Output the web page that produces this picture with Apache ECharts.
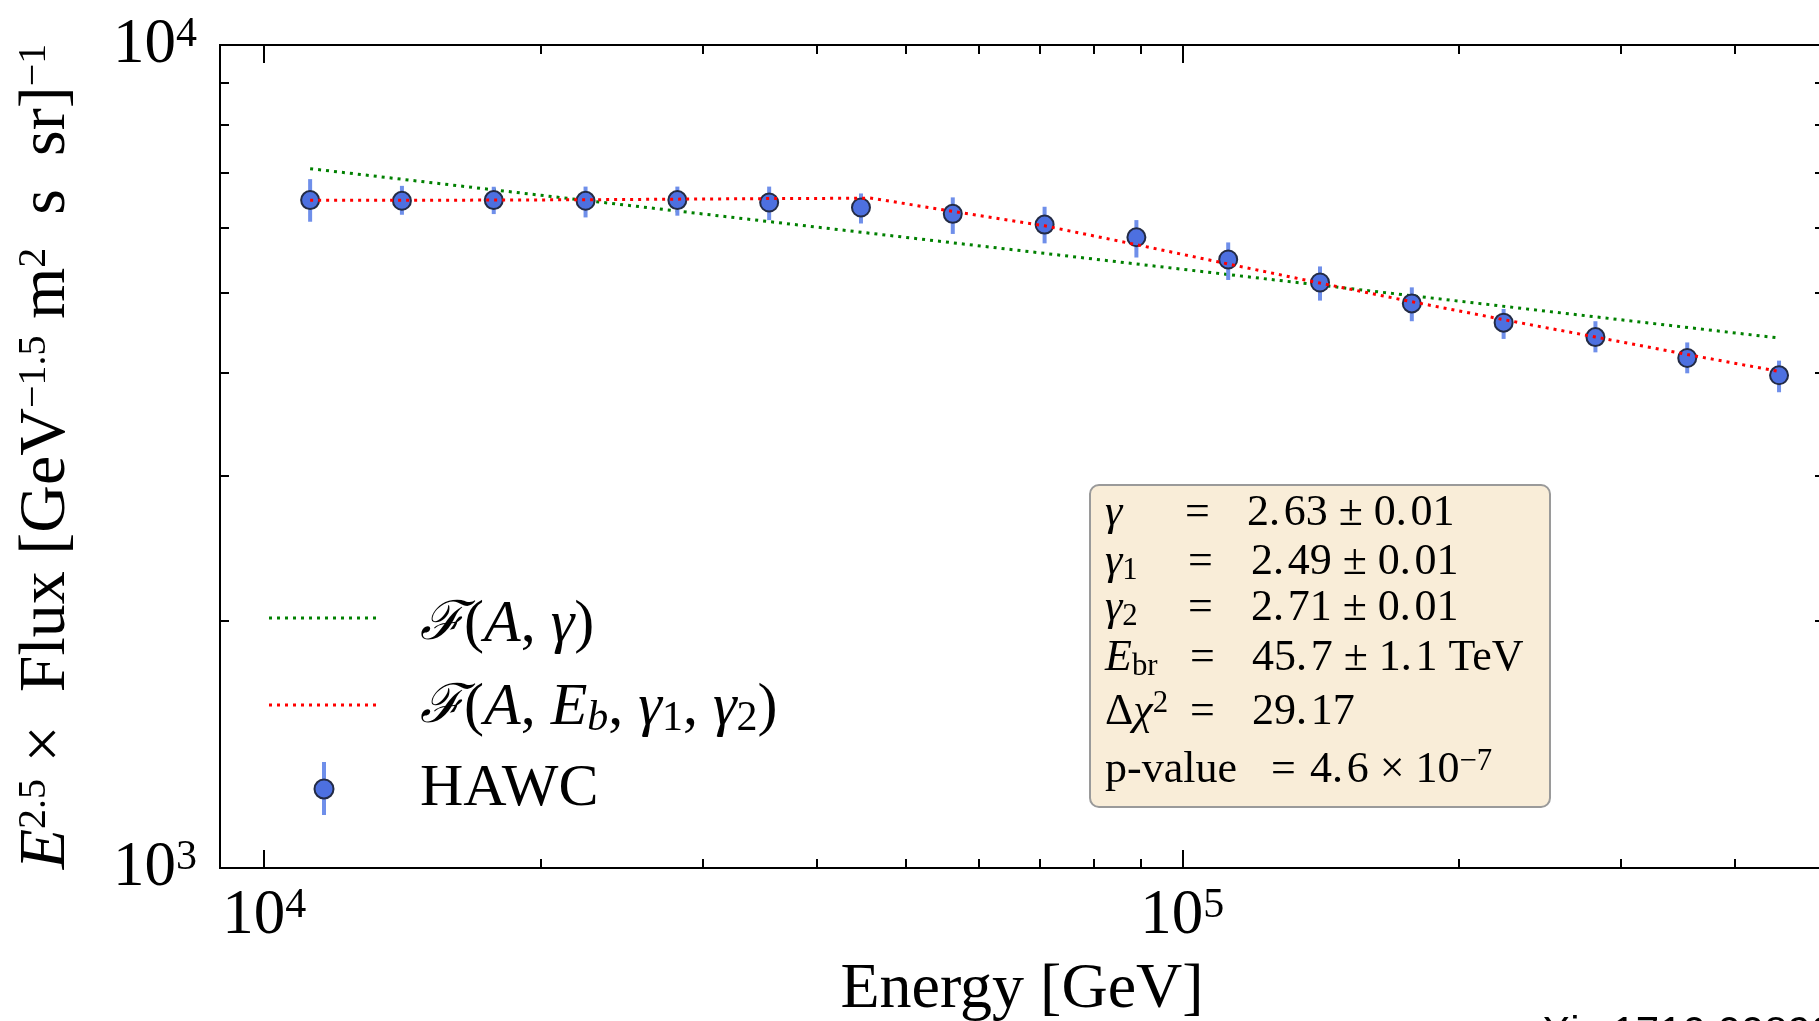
<!DOCTYPE html>
<html>
<head>
<meta charset="utf-8">
<title>HAWC spectrum</title>
<script src="https://cdn.jsdelivr.net/npm/echarts@6/dist/echarts.min.js"></script>
<style>
  html, body { margin: 0; padding: 0; background: #fff; }
  #chart { width: 1819px; height: 1021px; }
</style>
</head>
<body>
<div id="chart"></div>
<script>
// HAWC points, energy in GeV, y = E^2.5 x flux
const energy = [11220, 14125, 17783, 22387, 28184, 35481, 44668, 56234, 70795, 89125,
                112202, 141254, 177828, 223872, 281838, 354813, 446684];
const flux = [6480, 6467, 6480, 6467, 6480, 6436, 6347, 6235, 6050, 5839,
              5487, 5145, 4853, 4599, 4417, 4166, 3969];
const fluxLow = [6099, 6219, 6231, 6173, 6203, 6127, 6069, 5894, 5741, 5518,
                 5182, 4891, 4617, 4394, 4232, 3991, 3785];
const fluxHigh = [6871, 6743, 6726, 6729, 6729, 6729, 6601, 6529, 6360, 6127,
                  5756, 5382, 5076, 4778, 4617, 4351, 4135];

// single power law fit (straight on log-log)
const plE = [11220, 446684];
const plF = [7075, 4405];

// broken power law fit, read at the bin energies plus the break
const bplE = [11220, 14125, 17783, 22387, 28184, 35481, 44668, 45700, 56234, 70795,
              89125, 112202, 141254, 177828, 223872, 281838, 354813, 446684];
const bplF = [6476, 6476, 6480, 6486, 6497, 6507, 6513, 6518, 6278, 6030,
              5720, 5419, 5137, 4876, 4638, 4417, 4207, 4012];

const xMajor = [1e4, 1e5];
const xMinor = [2e4, 3e4, 4e4, 5e4, 6e4, 7e4, 8e4, 9e4, 2e5, 3e5, 4e5];
const yMajor = [1e3, 1e4];
const yMinor = [2e3, 3e3, 4e3, 5e3, 6e3, 7e3, 8e3, 9e3];

const serif = 'Liberation Serif';
const black = '#000';

const tickRich = {
    b: { fontFamily: serif, fontSize: 63, lineHeight: 63, color: black },
    s: { fontFamily: serif, fontSize: 42, lineHeight: 15, verticalAlign: 'top', color: black }
};
const powLabel = v => '{b|10}{s|' + Math.round(Math.log10(v)) + '}';

function makeAxis(position, ticks, len, range, more) {
    return Object.assign({
        type: 'log',
        position: position,
        min: range[0],
        max: range[1],
        axisLine: { show: true, onZero: false, lineStyle: { color: black, width: 2 } },
        axisTick: { show: true, inside: true, length: len, customValues: ticks,
                    lineStyle: { color: black, width: 2 } },
        axisLabel: { show: false },
        splitLine: { show: false },
        minorTick: { show: false },
        minorSplitLine: { show: false }
    }, more || {});
}

const xRange = [8950, 500000];
const yRange = [1000, 10000];

const xAxes = [
    makeAxis('bottom', xMajor, 18, xRange, {
        axisLabel: { show: true, customValues: xMajor, formatter: powLabel, rich: tickRich, margin: 17 },
        name: 'Energy [GeV]',
        nameLocation: 'middle',
        nameGap: 90,
        nameTextStyle: { fontFamily: serif, fontSize: 64, lineHeight: 64, color: black }
    }),
    makeAxis('bottom', xMinor, 9, xRange),
    makeAxis('top', xMajor, 18, xRange),
    makeAxis('top', xMinor, 9, xRange)
];

const yName = '{i|E}{s|2.5}{r| ×  Flux [GeV}{s|−1.5}{r| m}{s|2}{r|  s  sr]}{s|−1}';
const yAxes = [
    makeAxis('left', yMajor, 18, yRange, {
        axisLabel: { show: true, customValues: yMajor, formatter: powLabel, rich: tickRich, margin: 23 },
        name: yName,
        nameLocation: 'middle',
        nameRotate: 90,
        nameGap: 140,
        nameTextStyle: {
            color: black,
            rich: {
                r: { fontFamily: serif, fontSize: 66, lineHeight: 66, color: black },
                i: { fontFamily: serif, fontStyle: 'italic', fontSize: 66, lineHeight: 66, color: black },
                s: { fontFamily: serif, fontSize: 40, lineHeight: 24, verticalAlign: 'top', color: black }
            }
        }
    }),
    makeAxis('left', yMinor, 9, yRange),
    makeAxis('right', yMajor, 18, yRange),
    makeAxis('right', yMinor, 9, yRange)
];

const green = '#008000';
const red = '#ff0000';
const dotBlue = '#4d70e0';
const edge = '#232b45';
const barBlue = '#6f8fea';

// text styles for the legend and the fit box
function richSet(size) {
    return {
        r: { fontFamily: serif, fontSize: size, lineHeight: size + 4, color: black },
        i: { fontFamily: serif, fontStyle: 'italic', fontSize: size, lineHeight: size + 4, color: black },
        f: { fontFamily: 'DejaVu Serif', fontStyle: 'italic', fontSize: size * 0.9, lineHeight: size + 4, color: black },
        sub: { fontFamily: serif, fontSize: size * 0.7, lineHeight: size * 0.55, verticalAlign: 'bottom', color: black },
        subi: { fontFamily: serif, fontStyle: 'italic', fontSize: size * 0.7, lineHeight: size * 0.55, verticalAlign: 'bottom', color: black },
        sup: { fontFamily: serif, fontSize: size * 0.7, lineHeight: size * 0.4, verticalAlign: 'top', color: black }
    };
}
const legRich = richSet(60);
const boxRich = richSet(44);

function txt(x, y, text, rich) {
    return { type: 'text', x: x, y: y, z: 100,
             style: { text: text, rich: rich, verticalAlign: 'middle', align: 'left' } };
}

const hs = '\u200a';
const boxRows = [
    { y: 513, sym: '{i|γ}', eqX: 1185, valX: 1247, val: '{r|2.' + hs + '63 ± 0.' + hs + '01}' },
    { y: 562, sym: '{i|γ}{sub|1}', eqX: 1188, valX: 1251, val: '{r|2.' + hs + '49 ± 0.' + hs + '01}' },
    { y: 608, sym: '{i|γ}{sub|2}', eqX: 1188, valX: 1251, val: '{r|2.' + hs + '71 ± 0.' + hs + '01}' },
    { y: 658, sym: '{i|E}{sub|br}', eqX: 1190, valX: 1252, val: '{r|45.' + hs + '7 ± 1.' + hs + '1 TeV}' },
    { y: 712, sym: '{r|Δ}{i|χ}{sup|2}', eqX: 1190, valX: 1252, val: '{r|29.' + hs + '17}' },
    { y: 770, sym: '{r|p-value}', eqX: 1271, valX: 1310, val: '{r|4.' + hs + '6 × 10}{sup|−7}' }
];

const graphics = [
    // legend
    { type: 'line', z: 100, shape: { x1: 269, y1: 618, x2: 377, y2: 618 },
      style: { stroke: green, lineWidth: 3, lineDash: [3, 5] } },
    { type: 'line', z: 100, shape: { x1: 269, y1: 705, x2: 377, y2: 705 },
      style: { stroke: red, lineWidth: 3, lineDash: [3, 5] } },
    { type: 'line', z: 100, shape: { x1: 324, y1: 762, x2: 324, y2: 815 },
      style: { stroke: barBlue, lineWidth: 4 } },
    { type: 'circle', z: 101, shape: { cx: 324, cy: 789, r: 9.5 },
      style: { fill: dotBlue, stroke: edge, lineWidth: 2 } },
    txt(420, 625, '{f|ℱ}{r|(}{i|A}{r|, }{i|γ}{r|)}', legRich),
    txt(420, 708, '{f|ℱ}{r|(}{i|A}{r|, }{i|E}{subi|b}{r|, }{i|γ}{sub|1}{r|, }{i|γ}{sub|2}{r|)}', legRich),
    txt(420, 789, '{r|HAWC}', legRich),
    // fit results box
    { type: 'rect', z: 99, shape: { x: 1090, y: 485, width: 460, height: 322, r: 9 },
      style: { fill: '#f9edd8', stroke: '#9a9a9a', lineWidth: 2 } },
    // source note, mostly cut off by the bottom edge
    { type: 'text', x: 1505, y: 1013, z: 100,
      style: { text: 'arXiv:1710.00890', fontFamily: 'Liberation Sans', fontSize: 42,
               fill: '#000', verticalAlign: 'top', align: 'left' } }
];
boxRows.forEach(row => {
    graphics.push(txt(1105, row.y, row.sym, boxRich));
    graphics.push(txt(row.eqX, row.y, '{r|=}', boxRich));
    graphics.push(txt(row.valX, row.y, row.val, boxRich));
});

const chart = echarts.init(document.getElementById('chart'), null, { renderer: 'canvas' });
chart.setOption({
    animation: false,
    backgroundColor: '#fff',
    grid: { left: 220, top: 45, right: -5, bottom: 153, outerBoundsMode: 'none', containLabel: false },
    xAxis: xAxes,
    yAxis: yAxes,
    series: [
        {
            name: 'F(A, gamma)',
            type: 'line',
            data: plE.map((e, i) => [e, plF[i]]),
            showSymbol: false,
            symbol: 'none',
            lineStyle: { color: green, width: 3, type: [3, 5] },
            z: 2
        },
        {
            name: 'F(A, Eb, gamma1, gamma2)',
            type: 'line',
            data: bplE.map((e, i) => [e, bplF[i]]),
            showSymbol: false,
            symbol: 'none',
            lineStyle: { color: red, width: 3, type: [3, 5] },
            z: 5
        },
        {
            name: 'HAWC errors',
            type: 'custom',
            data: energy.map((e, i) => [e, fluxLow[i], fluxHigh[i]]),
            encode: { x: 0, y: [1, 2] },
            renderItem: function (params, api) {
                const a = api.coord([api.value(0), api.value(1)]);
                const b = api.coord([api.value(0), api.value(2)]);
                return { type: 'line', shape: { x1: a[0], y1: a[1], x2: b[0], y2: b[1] },
                         style: { stroke: barBlue, lineWidth: 4 } };
            },
            z: 3
        },
        {
            name: 'HAWC',
            type: 'scatter',
            data: energy.map((e, i) => [e, flux[i]]),
            symbol: 'circle',
            symbolSize: 18,
            itemStyle: { color: dotBlue, borderColor: edge, borderWidth: 2, opacity: 1 },
            z: 4
        }
    ],
    graphic: graphics
});
</script>
</body>
</html>
